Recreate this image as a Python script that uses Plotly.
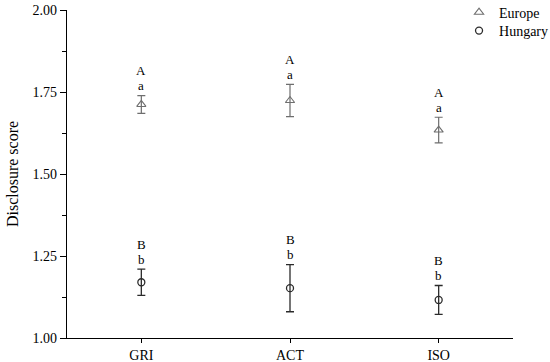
import plotly.graph_objects as go

categories = ["GRI", "ACT", "ISO"]
europe_mean = [1.712, 1.724, 1.634]
europe_err = [0.027, 0.049, 0.039]
hungary_mean = [1.170, 1.152, 1.116]
hungary_err = [0.040, 0.072, 0.044]
europe_labels = [("A", "a"), ("A", "a"), ("A", "a")]
hungary_labels = [("B", "b"), ("B", "b"), ("B", "b")]
y_ticks = [1.00, 1.25, 1.50, 1.75, 2.00]

FONT = "Liberation Serif, Times New Roman, serif"
EU_COL = "#6e6e6e"
HU_COL = "#2b2b2b"

xpos = list(range(len(categories)))

fig = go.Figure()
fig.add_trace(go.Scatter(
    x=xpos, y=europe_mean, mode="markers", name="Europe", legend="legend",
    marker=dict(symbol="triangle-up-open", size=8, color=EU_COL, line=dict(width=1.1)),
    error_y=dict(type="data", array=europe_err, visible=True, color=EU_COL, thickness=1.2, width=4),
))
fig.add_trace(go.Scatter(
    x=xpos, y=hungary_mean, mode="markers", name="Hungary", legend="legend2",
    marker=dict(symbol="circle-open", size=7, color=HU_COL, line=dict(width=1.3)),
    error_y=dict(type="data", array=hungary_err, visible=True, color=HU_COL, thickness=1.3, width=4),
))

annotations = []
for means, errs, labs in [(europe_mean, europe_err, europe_labels), (hungary_mean, hungary_err, hungary_labels)]:
    for i, (m, e, (up, low)) in enumerate(zip(means, errs, labs)):
        annotations.append(dict(x=xpos[i], y=m + e, text=low, showarrow=False, xref="x", yref="y",
                                yanchor="middle", yshift=10, font=dict(family=FONT, size=13, color="black")))
        annotations.append(dict(x=xpos[i], y=m + e, text=up, showarrow=False, xref="x", yref="y",
                                yanchor="middle", yshift=25, font=dict(family=FONT, size=13, color="black")))

legend_common = dict(xanchor="left", yanchor="middle", bgcolor="rgba(0,0,0,0)",
                     font=dict(family=FONT, size=14), itemwidth=30)

fig.update_layout(
    width=550, height=362,
    margin=dict(l=67, r=37, t=10, b=24, autoexpand=False),
    paper_bgcolor="white", plot_bgcolor="white",
    font=dict(family=FONT, size=14, color="black"),
    showlegend=True,
    legend=dict(x=0.879, y=0.992, **legend_common),
    legend2=dict(x=0.879, y=0.936, **legend_common),
    annotations=annotations,
)
fig.update_xaxes(
    range=[-0.5, 2.5], tickmode="array", tickvals=xpos, ticktext=categories,
    showline=True, linecolor="black", linewidth=1.3, showgrid=False, zeroline=False,
    ticks="outside", ticklen=4, tickwidth=1.2, tickcolor="black",
    tickfont=dict(family=FONT, size=14),
)
fig.update_yaxes(
    range=[1.0, 2.0], tickmode="array", tickvals=y_ticks, ticktext=[f"{v:.2f}" for v in y_ticks],
    showline=True, linecolor="black", linewidth=1.3, showgrid=False, zeroline=False,
    ticks="outside", ticklen=6, tickwidth=1.2, tickcolor="black",
    tickfont=dict(family=FONT, size=14),
    minor=dict(tickvals=[1.125, 1.375, 1.625, 1.875], ticks="outside", ticklen=4, tickwidth=1.2, tickcolor="black"),
    title=dict(text="Disclosure score", font=dict(family=FONT, size=16), standoff=9),
)

fig.write_html("out.html", config={"displayModeBar": False},
               post_script="document.body.style.margin='0px';")
